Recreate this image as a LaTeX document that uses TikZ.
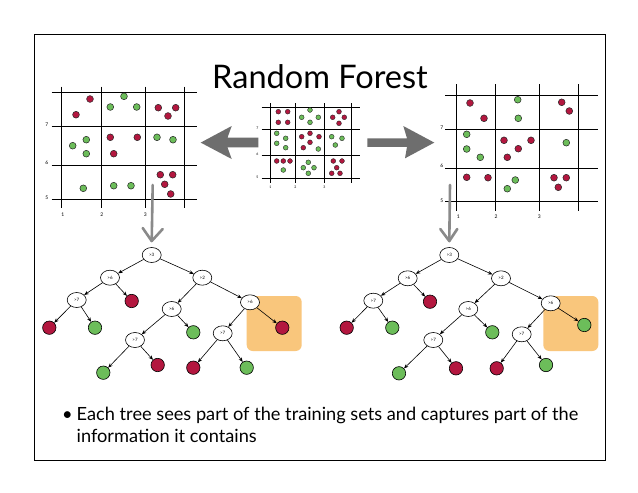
\documentclass[tikz,border=0pt]{standalone}
\usepackage{fontspec}
\setmainfont{Lato}
\usetikzlibrary{shapes.geometric,arrows.meta,calc}
\definecolor{dotred}{HTML}{B3173F}
\definecolor{dotgreen}{HTML}{6CBD5A}
\definecolor{hilite}{HTML}{F9C67C}
\definecolor{bigarrow}{HTML}{6E6E6E}
\definecolor{handgray}{HTML}{8A8A8A}
\tikzset{
  grid/.style={line width=0.9pt, black},
  tick/.style={font=\fontsize{5}{6}\selectfont, inner sep=0},
  dotbase/.style={circle, draw=black!85, line width=0.5pt, inner sep=0, minimum size=6.8pt},
  smalldot/.style={circle, draw=black!85, line width=0.4pt, inner sep=0, minimum size=4.8pt},
  rd/.style={dotbase, fill=dotred},
  gd/.style={dotbase, fill=dotgreen},
  srd/.style={smalldot, fill=dotred},
  sgd/.style={smalldot, fill=dotgreen},
  splitnode/.style={ellipse, draw=black, line width=0.6pt, fill=white, minimum width=19pt, minimum height=15pt, inner sep=0, font=\fontsize{4.5}{5}\selectfont},
  leafr/.style={circle, draw=black, line width=0.6pt, fill=dotred, minimum size=13.4pt, inner sep=0},
  leafg/.style={circle, draw=black, line width=0.6pt, fill=dotgreen, minimum size=13.4pt, inner sep=0},
  edge/.style={-{Stealth[length=4.5pt,width=3.6pt]}, line width=0.6pt},
  handarrow/.style={draw=handgray, line width=2.6pt, line cap=round, line join=round},
  hibox/.style={fill=hilite, rounded corners=6pt, draw=none},
}
\begin{document}
\begin{tikzpicture}[x=1pt,y=-1pt]
\useasboundingbox (0,0) rectangle (638,493);
\fill[white] (0,0) rectangle (638,493);
% frame
\draw[line width=0.9pt] (34.5,34) rectangle (605,460);

% title
\node[anchor=base, inner sep=0, font=\fontsize{32.5}{38}\selectfont] (title) at (320,88) {Random Forest};

% ===== left plot =====
\foreach \x in {61.7,101.7,145.3,184.3} \draw[grid] (\x,86.5) -- (\x,208);
\foreach \y in {92.3,126,165,199} \draw[grid] (51.7,\y) -- (197,\y);
\node[tick] (ly7) at (46.7,125) {7};
\node[tick] (ly6) at (46.7,163) {6};
\node[tick] (ly5) at (46.7,197.5) {5};
\node[tick] (lx1) at (62.7,215) {1};
\node[tick] (lx2) at (101.7,215) {2};
\node[tick] (lx3) at (145.3,215) {3};
\foreach \x/\y [count=\i] in {90/99,76/114.7,158.3/107.7,175.7/107.7,168/116,110.3/137.3,137.3/137.3,113.7/153.7,160.3/174.7,172.7/174.7,164.7/184.3,170.7/194}
  \node[rd] (lr\i) at (\x,\y) {};
\foreach \x/\y [count=\i] in {124/96.3,110.3/107,136.7/107,72.7/145.7,86.3/139.7,86.3/153.7,157/137.3,173/139.7,83.3/188.3,113.7/185.7,131/185.7}
  \node[gd] (lg\i) at (\x,\y) {};

% ===== centre plot =====
\foreach \x in {270,295,324,351.7} \draw[grid, line width=0.7pt] (\x,103.3) -- (\x,183.3);
\foreach \y in {107.7,129,155,178.3} \draw[grid, line width=0.7pt] (261.7,\y) -- (360,\y);
\node[tick, font=\fontsize{3.5}{4}\selectfont] (cy7) at (257.3,128) {7};
\node[tick, font=\fontsize{3.5}{4}\selectfont] (cy6) at (257.3,154) {6};
\node[tick, font=\fontsize{3.5}{4}\selectfont] (cy5) at (257.3,177) {5};
\node[tick, font=\fontsize{3.5}{4}\selectfont] (cx1) at (270.5,187.5) {1};
\node[tick, font=\fontsize{3.5}{4}\selectfont] (cx2) at (295.5,187.5) {2};
\node[tick, font=\fontsize{3.5}{4}\selectfont] (cx3) at (324.5,187.5) {3};
\foreach \x/\y [count=\i] in {278.3/111.7,287.7/111.7,278.3/122.3,287.7/122.3,339/111.7,332.7/117.3,344.3/117.3,339/123.3,301.7/136.7,310/133.3,319/136.7,310/142.3,303.3/147.7,276.7/161,283.3/161,290/161,333.3/161,342/161,336.7/167.7,331.7/173.3,340/173.3}
  \node[srd] (cr\i) at (\x,\y) {};
\foreach \x/\y [count=\i] in {310/110,301.7/117.3,318.3/117.3,310/122.3,276.7/133.3,276.7/143.3,285.7/138.3,285.7/147.7,318.3/149,331.7/136.7,342/138.3,335.3/145,283.3/170,308.3/162.3,303.3/167.7,314/167.7,308.3/173.3}
  \node[sgd] (cg\i) at (\x,\y) {};

% ===== right plot =====
\foreach \x in {456,495.3,539.3,578.3} \draw[grid] (\x,84) -- (\x,211);
\foreach \y in {95,129.3,168.3,201.7} \draw[grid] (445,\y) -- (598,\y);
\node[tick] (ry7) at (441.7,127.5) {7};
\node[tick] (ry6) at (441.7,166) {6};
\node[tick] (ry5) at (441.7,200.5) {5};
\node[tick] (rx1) at (458.3,216.7) {1};
\node[tick] (rx2) at (496,216.7) {2};
\node[tick] (rx3) at (539.3,216.7) {3};
\foreach \x/\y [count=\i] in {470/103,484/118.3,561.7/102.3,569.3/111,504/140.3,531/140.3,518.3/148.7,507.3/157.3,466.7/177.3,488/177.7,554/177.7,566.3/177.7,558.3/187.3}
  \node[rd] (rr\i) at (\x,\y) {};
\foreach \x/\y [count=\i] in {517.7/99.7,518.3/118.3,466.7/134.3,466.7/149,480.3/157.3,566.3/142.7,515.3/180,507.3/188.7}
  \node[gd] (rg\i) at (\x,\y) {};

% ===== big grey arrows =====
\fill[bigarrow] (200.7,142.6) -- (231.7,126) -- (227.5,137.7) -- (258.3,137.7) -- (258.3,147.4) -- (227.5,147.4) -- (231.7,159) -- cycle;
\fill[bigarrow] (434.3,142.6) -- (403.3,126) -- (407,138.3) -- (367.3,138.3) -- (367.3,146.8) -- (407,146.8) -- (405,158.3) -- cycle;

% ===== hand-drawn down arrows =====
\coordinate (ha1) at (152.7,185);
\coordinate (hb1) at (151.7,241);
\draw[handarrow] (ha1) -- (hb1);
\draw[handarrow] ($(hb1)+(-9,-13)$) -- (hb1) -- ($(hb1)+(11,-12)$);
\coordinate (ha2) at (450,185);
\coordinate (hb2) at (449.3,241);
\draw[handarrow] (ha2) -- (hb2);
\draw[handarrow] ($(hb2)+(-9,-12)$) -- (hb2) -- ($(hb2)+(8,-12)$);

% ===== highlight boxes =====
\fill[hibox] (246.7,296) rectangle (301.7,351);
\fill[hibox] (543.3,296) rectangle (598.3,351);

% ===== left tree =====
\node[splitnode] (lt0) at (151.7,255) {>3};
\node[splitnode] (lt1) at (110,277.7) {>6};
\node[splitnode] (lt2) at (202.3,277.7) {>2};
\node[splitnode] (lt3) at (76.7,300) {>7};
\node[leafr] (lt4) at (131.7,301) {};
\node[splitnode] (lt5) at (171.7,309) {>6};
\node[splitnode] (lt6) at (250,302.3) {>6};
\node[leafr] (lt7) at (49.3,327.7) {};
\node[leafg] (lt8) at (95,327.7) {};
\node[splitnode] (lt9) at (135,340) {>7};
\node[leafg] (lt10) at (193.3,332.3) {};
\node[splitnode] (lt11) at (222.7,333.3) {>7};
\node[leafr] (lt12) at (282.3,327.7) {};
\node[leafg] (lt13) at (103.3,372.7) {};
\node[leafr] (lt14) at (157.7,365) {};
\node[leafr] (lt15) at (193.3,367.7) {};
\node[leafg] (lt16) at (246.7,367.7) {};
\foreach \a/\b in {lt0/lt1,lt0/lt2,lt1/lt3,lt1/lt4,lt2/lt5,lt2/lt6,lt3/lt7,lt3/lt8,lt5/lt9,lt5/lt10,lt6/lt11,lt6/lt12,lt9/lt13,lt9/lt14,lt11/lt15,lt11/lt16}
  \draw[edge] (\a) -- (\b);

% ===== right tree =====
\node[splitnode] (rt0) at (449.3,255) {>3};
\node[splitnode] (rt1) at (407.7,278.3) {>6};
\node[splitnode] (rt2) at (501,278.3) {>2};
\node[splitnode] (rt3) at (373.3,300.7) {>7};
\node[leafr] (rt4) at (430,301.7) {};
\node[splitnode] (rt5) at (468.3,309) {>6};
\node[splitnode] (rt6) at (550.7,303.3) {>6};
\node[leafr] (rt7) at (346.7,327.7) {};
\node[leafg] (rt8) at (392.3,327.7) {};
\node[splitnode] (rt9) at (433.3,340) {>7};
\node[leafg] (rt10) at (492.3,332.3) {};
\node[splitnode] (rt11) at (521.7,334.3) {>7};
\node[leafg] (rt12) at (584.3,325) {};
\node[leafg] (rt13) at (399,373.3) {};
\node[leafr] (rt14) at (456,368.3) {};
\node[leafr] (rt15) at (496.7,368.3) {};
\node[leafg] (rt16) at (546,365) {};
\foreach \a/\b in {rt0/rt1,rt0/rt2,rt1/rt3,rt1/rt4,rt2/rt5,rt2/rt6,rt3/rt7,rt3/rt8,rt5/rt9,rt5/rt10,rt6/rt11,rt6/rt12,rt9/rt13,rt9/rt14,rt11/rt15,rt11/rt16}
  \draw[edge] (\a) -- (\b);

% ===== bullet text =====
\node[anchor=base west, inner sep=0, font=\fontsize{18.2}{22}\selectfont, align=left] (bullet) at (62,442)
  {\textbullet\hspace{4pt}Each tree sees part of the training sets and captures part of the\\\hspace{14.5pt}information it contains};
\end{tikzpicture}
\end{document}
